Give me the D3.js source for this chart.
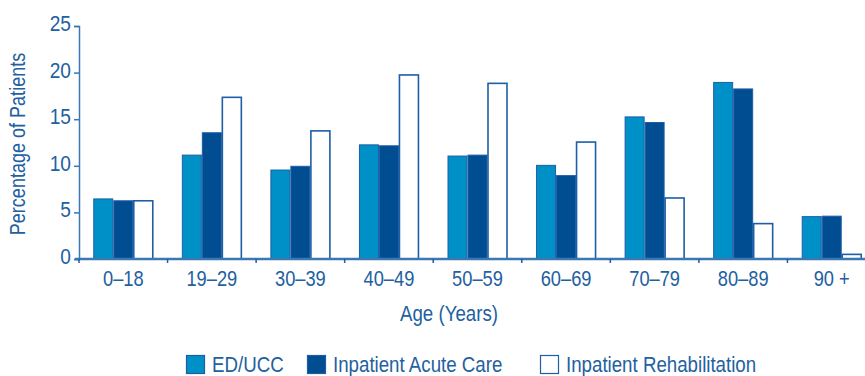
<!DOCTYPE html>
<html>
<head>
<meta charset="utf-8">
<script src="https://cdn.jsdelivr.net/npm/d3@7"></script>
<style>
  body { margin: 0; background: #fff; }
  svg text { font-family: "Liberation Sans", Arial, sans-serif; fill: #22609f; }
</style>
</head>
<body>
<div id="chart"></div>
<script>
const ageGroups = ['0–18', '19–29', '30–39', '40–49', '50–59', '60–69', '70–79', '80–89', '90 +'];
const seriesNames = ['ED/UCC', 'Inpatient Acute Care', 'Inpatient Rehabilitation'];
const edUcc = [6.5, 11.2, 9.6, 12.3, 11.1, 10.1, 15.3, 19.0, 4.6];
const acuteCare = [6.3, 13.6, 10.0, 12.2, 11.2, 9.0, 14.7, 18.3, 4.65];
const rehab = [6.3, 17.4, 13.8, 19.8, 18.9, 12.6, 6.6, 3.85, 0.55];
const yTicks = [0, 5, 10, 15, 20, 25];

const fills = ['#0090c8', '#004d92', '#ffffff'];
const stroke = '#1d5ea6';
const squeeze = 0.85; // reference font is a narrow face
const width = 865;
const height = 376;
const margin = { top: 26, left: 79, bottom: 259 };

const svg = d3.select('#chart').append('svg')
  .attr('width', width)
  .attr('height', height);

const x = d3.scaleBand()
  .domain(ageGroups)
  .range([margin.left, 876]);

const inner = d3.scaleBand()
  .domain(seriesNames)
  .range([0, 60]);

const y = d3.scaleLinear()
  .domain([0, 25])
  .range([margin.bottom, margin.top]);

const rows = ageGroups.map((g, i) => ({
  group: g,
  values: [edUcc[i], acuteCare[i], rehab[i]],
}));

// bars
const groups = svg.selectAll('g.group')
  .data(rows)
  .enter().append('g')
  .attr('class', 'group')
  .attr('transform', d => `translate(${x(d.group) + (x.bandwidth() - 60) / 2},0)`);

groups.selectAll('rect')
  .data(d => d.values.map((v, j) => ({ name: seriesNames[j], value: v, j })))
  .enter().append('rect')
  .attr('x', d => inner(d.name) + 0.5)
  .attr('y', d => y(d.value) + 0.5)
  .attr('width', inner.bandwidth() - 1)
  .attr('height', d => y(0) - y(d.value) - 0.5)
  .attr('fill', d => fills[d.j])
  .attr('stroke', stroke)
  .attr('stroke-width', d => (d.j === 2 ? 1.6 : 1));

// y axis
const yAxis = svg.append('g')
  .attr('transform', `translate(${margin.left},0)`)
  .call(d3.axisLeft(y).tickValues(yTicks).tickSize(5).tickPadding(4));
yAxis.select('.domain').attr('stroke', '#3a78b4').attr('stroke-width', 1.5);
yAxis.selectAll('line').attr('stroke', '#3a78b4').attr('stroke-width', 1.5);
yAxis.selectAll('text')
  .attr('font-size', 22.5)
  .attr('x', -8 / squeeze)
  .attr('dy', '0.2em')
  .attr('transform', `scale(${squeeze},1)`);

// x axis
const xAxis = svg.append('g')
  .attr('transform', `translate(0,${margin.bottom})`)
  .call(d3.axisBottom(x).tickSize(0).tickPadding(12));
xAxis.select('.domain').attr('stroke', '#3a78b4').attr('stroke-width', 2.5)
  .attr('d', 'M75,0H876');
xAxis.selectAll('text')
  .attr('font-size', 21.5)
  .attr('transform', `scale(${squeeze},1)`);

svg.append('g')
  .selectAll('line')
  .data(ageGroups)
  .enter().append('line')
  .attr('x1', d => x(d))
  .attr('x2', d => x(d))
  .attr('y1', margin.bottom)
  .attr('y2', margin.bottom + 4)
  .attr('stroke', '#1d5ea6')
  .attr('stroke-width', 1.5);

// axis titles
svg.append('text')
  .attr('transform', `translate(449,321) scale(${squeeze},1)`)
  .attr('text-anchor', 'middle')
  .attr('font-size', 22)
  .text('Age (Years)');

svg.append('text')
  .attr('transform', 'translate(25,144) rotate(-90) scale(0.82,1)')
  .attr('text-anchor', 'middle')
  .attr('font-size', 22)
  .text('Percentage of Patients');

// legend
const legendX = [186, 307, 540];
const legend = svg.selectAll('g.legend')
  .data(seriesNames)
  .enter().append('g')
  .attr('class', 'legend')
  .attr('transform', (d, i) => `translate(${legendX[i]},355)`);

legend.append('rect')
  .attr('x', 0.5)
  .attr('y', 0.5)
  .attr('width', 18)
  .attr('height', 18)
  .attr('fill', (d, i) => fills[i])
  .attr('stroke', stroke)
  .attr('stroke-width', 1.2);

legend.append('text')
  .attr('transform', `translate(26,17) scale(${squeeze},1)`)
  .attr('font-size', 22)
  .text(d => d);
</script>
</body>
</html>
